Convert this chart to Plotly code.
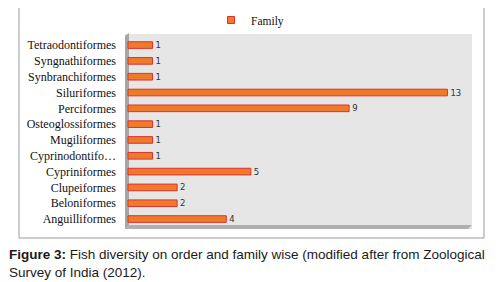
import plotly.graph_objects as go

orders = ["Anguilliformes", "Beloniformes", "Clupeiformes", "Cypriniformes",
          "Cyprinodontifo…", "Mugiliformes", "Osteoglossiformes", "Perciformes",
          "Siluriformes", "Synbranchiformes", "Syngnathiformes", "Tetraodontiformes"]
family = [4, 2, 2, 5, 1, 1, 1, 9, 13, 1, 1, 1]
series_name = "Family"
caption = ("<b>Figure 3:</b> Fish diversity on order and family wise (modified after from Zoological"
           "<br>Survey of India (2012).")

BAR_FILL = "#EE7A2C"
BAR_LINE = "#E2302A"

fig = go.Figure()
fig.add_trace(go.Bar(
    x=family, y=orders, orientation="h", name=series_name, showlegend=False,
    width=0.42,
    marker=dict(color=BAR_FILL, line=dict(color=BAR_LINE, width=1)),
    text=[str(v) for v in family], textposition="outside", constraintext="none",
    textfont=dict(family="DejaVu Sans", size=8.5, color="#333333"),
    cliponaxis=False,
))
fig.add_trace(go.Scatter(
    x=[None], y=[None], mode="markers", name=series_name, showlegend=True,
    marker=dict(symbol="square", size=7, color=BAR_FILL, line=dict(color=BAR_LINE, width=1)),
))

# the page body adds an 8px margin; lay out in screen coordinates
OFF = 8
W, H = 500, 282
L, R, T, B = 125 - OFF, 472 - OFF, 34 - OFF, 229 - OFF
def px(x): return (x - OFF - L) / (R - L)
def py(y): return (B - (y - OFF)) / (B - T)

shapes = [
    dict(type="rect", xref="paper", yref="paper", x0=px(19), x1=px(484), y0=py(238), y1=py(7),
         line=dict(color="#9A9A9A", width=1), fillcolor="rgba(0,0,0,0)", layer="below"),
    dict(type="path", xref="paper", yref="paper",
         path=f"M {px(125)},{py(229)} L {px(125)},{py(36)} L {px(129)},{py(33)} L {px(129)},{py(225)} Z",
         fillcolor="#A6A6A6", line=dict(width=0), layer="below"),
    dict(type="path", xref="paper", yref="paper",
         path=f"M {px(125)},{py(229)} L {px(129)},{py(225)} L {px(472)},{py(225)} L {px(468)},{py(229)} Z",
         fillcolor="#B0B0B0", line=dict(width=0), layer="below"),
]

fig.update_layout(
    width=W, height=H,
    margin=dict(l=L, r=W - R, t=T, b=H - B, autoexpand=False),
    paper_bgcolor="white", plot_bgcolor="#E6E6E6",
    showlegend=True,
    legend=dict(orientation="h", x=px(211), y=py(20), xanchor="left", yanchor="middle",
                font=dict(family="Liberation Serif", size=11.5, color="#111111"),
                bgcolor="rgba(0,0,0,0)", itemwidth=30),
    xaxis=dict(range=[-0.12, 14], showgrid=False, zeroline=False, showticklabels=False,
               showline=False, fixedrange=True, automargin=False),
    yaxis=dict(range=[-0.63, 11.7], showgrid=False, zeroline=False, showline=False,
               tickfont=dict(family="Liberation Serif", size=12, color="#111111"),
               ticklabelstandoff=8, categoryorder="array", categoryarray=orders,
               automargin=False),
    shapes=shapes,
    annotations=[dict(text=caption, xref="paper", yref="paper", x=px(7), y=py(245),
                      xanchor="left", yanchor="top", align="left", showarrow=False,
                      font=dict(family="Liberation Sans", size=13.5, color="#1a1a1a"))],
    bargap=0.5,
)

fig.write_html("out.html")
